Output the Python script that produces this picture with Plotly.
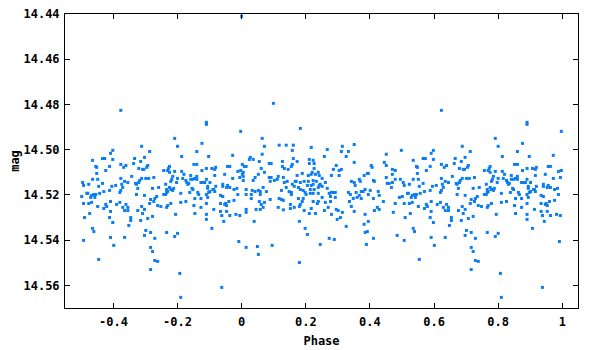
import plotly.graph_objects as go

# Phase (0..1) and magnitude readings
phase = [
0.000,0.099,0.064,0.071,0.117,0.139,0.161,0.158,0.064,0.027,0.024,0.036,0.161,0.055,0.127,0.086,0.092,0.002,0.008,0.014,
0.127,0.158,0.155,0.061,0.133,0.145,0.005,0.071,0.002,0.052,0.114,0.005,0.042,0.086,0.092,0.130,0.005,0.036,0.089,0.102,
0.111,0.142,0.133,0.167,0.158,0.164,0.067,0.139,0.014,0.033,0.042,0.052,0.058,0.124,0.077,0.148,0.155,0.155,0.014,0.030,
0.058,0.030,0.089,0.117,0.124,0.130,0.055,0.071,0.061,0.152,0.067,0.114,0.164,0.152,0.045,0.058,0.130,0.014,0.014,0.039,
0.014,0.049,0.095,0.052,
# crop 2
0.183,0.314,0.217,0.267,0.311,0.333,0.258,0.326,0.211,0.223,0.173,0.211,0.226,0.295,0.226,0.286,0.304,0.311,0.220,0.239,
0.189,0.173,0.217,0.230,0.242,0.208,0.280,0.304,0.251,0.170,0.183,0.195,0.208,0.223,0.233,0.261,0.342,0.205,0.217,0.223,
0.245,0.251,0.239,0.242,0.177,0.183,0.192,0.214,0.226,0.267,0.198,0.201,0.214,0.223,0.239,0.273,0.280,0.286,0.292,0.277,
0.292,0.251,0.333,0.339,0.177,0.192,0.189,0.223,0.239,0.236,0.261,0.277,0.336,0.183,0.180,0.270,0.342,0.217,0.258,0.295,
0.301,0.195,0.314,0.211,0.230,0.280,0.308,0.298,0.180,0.326,0.198,0.205,0.273,0.289,0.245,0.180,
# crop 3
0.351,0.498,0.451,0.351,0.445,0.404,0.407,0.451,0.470,0.479,0.392,0.395,0.382,0.470,0.451,0.367,0.370,0.351,0.354,0.411,
0.414,0.479,0.495,0.504,0.507,0.454,0.460,0.470,0.467,0.373,0.379,0.385,0.401,0.426,0.429,0.357,0.395,0.348,0.360,0.373,
0.367,0.411,0.492,0.501,0.442,0.479,0.507,0.517,0.351,0.423,0.429,0.414,0.473,0.385,0.510,0.395,0.382,0.392,0.385,0.485,
0.411,0.507,0.389,
# crop 4
0.623,0.688,0.598,0.591,0.666,0.685,0.566,0.573,0.598,0.535,0.663,0.623,0.639,0.632,0.545,0.548,0.588,0.679,0.691,0.576,
0.548,0.657,0.623,0.535,0.551,0.688,0.682,0.679,0.669,0.672,0.635,0.645,0.523,0.566,0.554,0.607,0.595,0.626,0.629,0.623,
0.620,0.588,0.570,0.676,0.672,0.520,0.532,0.539,0.545,0.529,0.542,0.557,0.591,0.523,0.532,0.576,0.579,0.610,0.620,0.639,
0.551,0.570,0.629,0.645,0.635,0.645,0.591,0.688,0.676,0.526,0.691,0.588,0.654,0.654,0.685,0.598,0.648,0.535,0.539,0.591,
0.635,0.601,0.554,
# crop 5
0.791,0.800,0.860,0.713,0.697,0.813,0.851,0.860,0.707,0.704,0.695,0.775,0.772,0.769,0.775,0.757,0.791,0.813,0.785,0.782,
0.800,0.841,0.860,0.820,0.816,0.726,0.710,0.701,0.841,0.848,0.854,0.860,0.826,0.829,0.832,0.835,0.797,0.779,0.763,0.741,
0.722,0.775,0.779,0.785,0.788,0.766,0.769,0.766,0.757,0.763,0.810,0.838,0.845,0.848,0.863,0.866,0.697,0.735,0.729,0.716,
0.726,0.713,0.738,0.748,0.779,0.769,0.766,0.810,0.826,0.854,0.851,0.697,0.794,0.854,0.722,0.707,0.701,0.716,0.766,0.800,
0.791,0.697,0.729,0.716,0.722,0.729,0.738,0.716,0.807,0.810,
# crop 6
0.890,0.890,0.997,0.876,0.972,0.897,0.956,0.963,0.919,0.907,0.916,0.890,0.876,0.997,0.988,0.947,0.916,0.994,0.972,0.890,
0.873,0.879,0.885,0.901,0.941,0.941,0.956,0.953,0.963,0.919,0.894,0.894,0.910,0.913,0.901,0.916,0.976,0.985,0.890,0.897,
0.988,0.934,0.941,0.894,0.873,0.976,0.960,0.934,0.950,0.953,0.947,0.890,0.873,0.913,0.934,0.953,0.890,0.938,0.963,0.982,
0.994,0.890,0.944,0.907,0.991,0.938,
]

mag = [
14.4410,14.4795,14.4950,14.4985,14.4980,14.4980,14.4980,14.5003,14.5020,14.5034,14.5043,14.5043,14.5039,14.5052,14.5052,14.5061,14.5061,14.5065,14.5074,14.5074,
14.5074,14.5065,14.5074,14.5083,14.5083,14.5087,14.5100,14.5100,14.5109,14.5109,14.5118,14.5118,14.5123,14.5123,14.5123,14.5123,14.5136,14.5136,14.5140,14.5136,
14.5131,14.5140,14.5145,14.5140,14.5153,14.5162,14.5167,14.5167,14.5176,14.5180,14.5185,14.5180,14.5185,14.5180,14.5185,14.5185,14.5189,14.5198,14.5198,14.5198,
14.5198,14.5216,14.5220,14.5216,14.5220,14.5224,14.5229,14.5233,14.5242,14.5242,14.5255,14.5255,14.5255,14.5260,14.5264,14.5264,14.5266,14.5264,14.5277,14.5317,
14.5432,14.5428,14.5423,14.5463,
# crop 2
14.4906,14.4985,14.4990,14.4999,14.5008,14.5008,14.5030,14.5030,14.5043,14.5047,14.5052,14.5061,14.5061,14.5070,14.5083,14.5087,14.5092,14.5087,14.5100,14.5100,
14.5105,14.5114,14.5109,14.5109,14.5114,14.5114,14.5114,14.5114,14.5127,14.5140,14.5145,14.5140,14.5140,14.5136,14.5140,14.5145,14.5140,14.5158,14.5158,14.5153,
14.5153,14.5162,14.5167,14.5158,14.5167,14.5176,14.5180,14.5176,14.5176,14.5171,14.5189,14.5198,14.5193,14.5193,14.5193,14.5193,14.5189,14.5189,14.5189,14.5207,
14.5211,14.5211,14.5189,14.5198,14.5216,14.5216,14.5229,14.5229,14.5229,14.5238,14.5233,14.5229,14.5229,14.5242,14.5251,14.5255,14.5251,14.5260,14.5269,14.5264,
14.5269,14.5269,14.5277,14.5282,14.5282,14.5286,14.5300,14.5308,14.5317,14.5339,14.5348,14.5375,14.5392,14.5397,14.5419,14.5499,
# crop 3
14.4977,14.5003,14.5020,14.5056,14.5056,14.5070,14.5078,14.5070,14.5087,14.5092,14.5105,14.5105,14.5114,14.5109,14.5123,14.5131,14.5140,14.5145,14.5158,14.5136,
14.5140,14.5131,14.5131,14.5145,14.5158,14.5149,14.5149,14.5145,14.5167,14.5185,14.5185,14.5176,14.5180,14.5185,14.5202,14.5189,14.5198,14.5216,14.5211,14.5216,
14.5202,14.5216,14.5211,14.5207,14.5229,14.5238,14.5238,14.5193,14.5273,14.5255,14.5264,14.5269,14.5277,14.5286,14.5300,14.5317,14.5330,14.5362,14.5366,14.5379,
14.5392,14.5401,14.5419,
# crop 4
14.4826,14.4985,14.5003,14.5016,14.5039,14.5052,14.5039,14.5039,14.5043,14.5047,14.5061,14.5065,14.5070,14.5078,14.5074,14.5078,14.5074,14.5083,14.5087,14.5092,
14.5105,14.5118,14.5127,14.5131,14.5131,14.5127,14.5136,14.5145,14.5149,14.5153,14.5140,14.5145,14.5153,14.5149,14.5162,14.5158,14.5162,14.5153,14.5167,14.5180,
14.5189,14.5180,14.5185,14.5171,14.5198,14.5193,14.5202,14.5198,14.5198,14.5211,14.5211,14.5193,14.5229,14.5238,14.5233,14.5242,14.5251,14.5242,14.5233,14.5242,
14.5251,14.5260,14.5255,14.5255,14.5269,14.5269,14.5273,14.5251,14.5269,14.5282,14.5282,14.5300,14.5300,14.5313,14.5313,14.5322,14.5335,14.5348,14.5362,14.5388,
14.5388,14.5423,14.5485,
# crop 5
14.4950,14.4985,14.5008,14.5008,14.5034,14.5030,14.5065,14.5065,14.5070,14.5078,14.5087,14.5074,14.5083,14.5092,14.5100,14.5092,14.5096,14.5096,14.5118,14.5131,
14.5127,14.5114,14.5118,14.5109,14.5127,14.5123,14.5127,14.5127,14.5131,14.5131,14.5127,14.5131,14.5136,14.5145,14.5153,14.5149,14.5145,14.5140,14.5153,14.5167,
14.5171,14.5167,14.5176,14.5180,14.5171,14.5176,14.5185,14.5189,14.5198,14.5198,14.5193,14.5189,14.5171,14.5176,14.5189,14.5198,14.5202,14.5207,14.5216,14.5220,
14.5229,14.5238,14.5247,14.5251,14.5238,14.5247,14.5255,14.5233,14.5229,14.5216,14.5247,14.5264,14.5286,14.5282,14.5295,14.5304,14.5357,14.5366,14.5366,14.5370,
14.5384,14.5379,14.5392,14.5432,14.5450,14.5490,14.5494,14.5530,14.5547,14.5653,
# crop 6
14.4879,14.4888,14.4919,14.4972,14.5025,14.5030,14.5074,14.5074,14.5078,14.5083,14.5087,14.5083,14.5092,14.5092,14.5096,14.5109,14.5114,14.5123,14.5127,14.5131,
14.5145,14.5145,14.5145,14.5145,14.5153,14.5162,14.5158,14.5167,14.5167,14.5162,14.5162,14.5171,14.5176,14.5176,14.5185,14.5185,14.5176,14.5171,14.5198,14.5189,
14.5198,14.5202,14.5207,14.5211,14.5216,14.5224,14.5229,14.5238,14.5238,14.5247,14.5242,14.5238,14.5255,14.5264,14.5273,14.5273,14.5286,14.5291,14.5291,14.5286,
14.5291,14.5308,14.5317,14.5348,14.5406,14.5609,
]

x_tickvals = [-0.4, -0.2, 0, 0.2, 0.4, 0.6, 0.8, 1]
x_ticktext = ["-0.4", "-0.2", "0", "0.2", "0.4", "0.6", "0.8", "1"]
y_tickvals = [14.44, 14.46, 14.48, 14.50, 14.52, 14.54, 14.56]
y_ticktext = ["14.44", "14.46", "14.48", "14.50", "14.52", "14.54", "14.56"]

# phase-folded view: repeat second half of the cycle at phase - 1
xs = list(phase) + [p - 1 for p in phase if p >= 0.5]
ys = list(mag) + [m for p, m in zip(phase, mag) if p >= 0.5]

fig = go.Figure(go.Scatter(
    x=xs, y=ys, mode="markers",
    marker=dict(symbol="square", size=3, color="rgb(10,125,245)", line=dict(width=0)),
    hoverinfo="skip",
))

font = dict(family="DejaVu Sans Mono", size=12, color="black", weight="bold")
axis_common = dict(
    showline=True, linecolor="black", linewidth=1, mirror="ticks",
    ticks="inside", ticklen=5, tickcolor="black", tickwidth=1,
    showgrid=False, zeroline=False, tickfont=font, automargin=False,
    ticklabeloverflow="allow",
)
# page body adds an 8px offset, so the figure is sized 592x342
fig.update_layout(
    width=592, height=342,
    margin=dict(l=57, r=22, t=6, b=42),
    paper_bgcolor="white", plot_bgcolor="white",
    showlegend=False,
    xaxis=dict(range=[-0.551, 1.049], tickvals=x_tickvals, ticktext=x_ticktext,
               ticklabelstandoff=3,
               title=dict(text="Phase", font=font, standoff=8), **axis_common),
    yaxis=dict(range=[14.57, 14.44], tickvals=y_tickvals, ticktext=y_ticktext,
               ticklabelstandoff=2,
               title=dict(text="mag", font=font, standoff=4), **axis_common),
)
fig.write_html("out.html")
